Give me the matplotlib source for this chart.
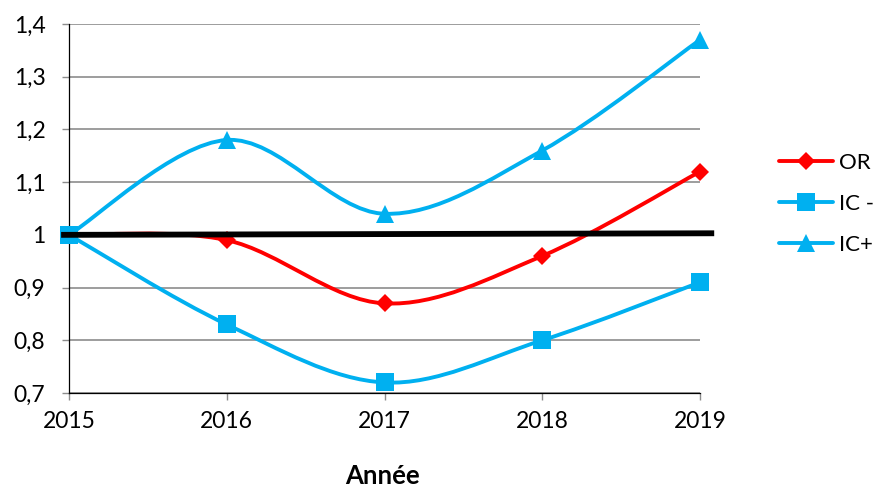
import matplotlib
matplotlib.use("Agg")
import matplotlib.pyplot as plt
from matplotlib.path import Path
from matplotlib.patches import PathPatch
from matplotlib.lines import Line2D

plt.rcParams['font.family'] = ['Lato', 'DejaVu Sans']

years = ['2015', '2016', '2017', '2018', '2019']
or_vals = [1.00, 0.99, 0.87, 0.96, 1.12]
ic_minus = [1.00, 0.83, 0.72, 0.80, 0.91]
ic_plus = [1.00, 1.18, 1.04, 1.16, 1.37]
ref_line_y = [1.00, 1.003]
y_ticks = [0.7, 0.8, 0.9, 1.0, 1.1, 1.2, 1.3, 1.4]
y_tick_labels = ['0,7', '0,8', '0,9', '1', '1,1', '1,2', '1,3', '1,4']

RED = '#FF0000'
BLUE = '#00B0F0'

fig = plt.figure(figsize=(8.73, 4.9), dpi=100)
ax = fig.add_axes([69/873, 1 - 393/490, (700-69)/873, (393-24)/490])

def smooth_path(xs, ys):
    pts = list(zip(xs, ys))
    n = len(pts)
    verts = [pts[0]]
    codes = [Path.MOVETO]
    for i in range(n - 1):
        p0 = pts[i - 1] if i > 0 else pts[i]
        p1 = pts[i]
        p2 = pts[i + 1]
        p3 = pts[i + 2] if i + 2 < n else pts[i + 1]
        c1 = (p1[0] + (p2[0] - p0[0]) / 6, p1[1] + (p2[1] - p0[1]) / 6)
        c2 = (p2[0] - (p3[0] - p1[0]) / 6, p2[1] - (p3[1] - p1[1]) / 6)
        verts += [c1, c2, p2]
        codes += [Path.CURVE4] * 3
    return Path(verts, codes)

xs = list(range(len(years)))
series = [
    ('OR', or_vals, RED, 'D', 9.5),
    ('IC -', ic_minus, BLUE, 's', 13),
    ('IC+', ic_plus, BLUE, '^', 13),
]
handles = []
for name, vals, color, mk, ms in series:
    patch = PathPatch(smooth_path(xs, vals), facecolor='none', edgecolor=color,
                      lw=2.8, capstyle='round', joinstyle='round', clip_on=False, zorder=3)
    ax.add_patch(patch)
    ax.plot(xs, vals, linestyle='none', marker=mk, ms=ms, color=color,
            markeredgewidth=0, clip_on=False, zorder=4)
    handles.append(Line2D([], [], color=color, lw=2.8, marker=mk, ms=ms,
                          markeredgewidth=0, solid_capstyle='round', label=name))

ax.plot([-0.05, 4.09], ref_line_y, color='black', lw=4.2, clip_on=False, zorder=6,
        solid_capstyle='butt')

ax.set_xlim(0, 4)
ax.set_ylim(0.7, 1.4)
ax.set_xticks(xs)
ax.set_xticklabels(years)
ax.set_yticks(y_ticks)
ax.set_yticklabels(y_tick_labels)
ax.tick_params(axis='both', labelsize=16.5, colors='#8c8c8c', labelcolor='black',
               length=5, width=1.0, direction='out')
ax.tick_params(axis='y', pad=12)
ax.tick_params(axis='x', pad=8)
ax.yaxis.grid(True, color='#8c8c8c', lw=1.2)
ax.set_axisbelow(True)
for s in ['top', 'right']:
    ax.spines[s].set_visible(False)
for s in ['left', 'bottom']:
    ax.spines[s].set_color('black')
    ax.spines[s].set_linewidth(0.9)

fig.text(382/873, 1 - 476/490, 'Année', ha='center', va='center',
         fontsize=18.5, fontweight='bold')

leg = fig.legend(handles=handles, loc='center left',
                 bbox_to_anchor=(779/873, 1 - 204/490), frameon=False,
                 fontsize=16, handlelength=2.45, handletextpad=0.25,
                 labelspacing=0.95, borderaxespad=0, borderpad=0)

fig.savefig('out.png', dpi=100)
